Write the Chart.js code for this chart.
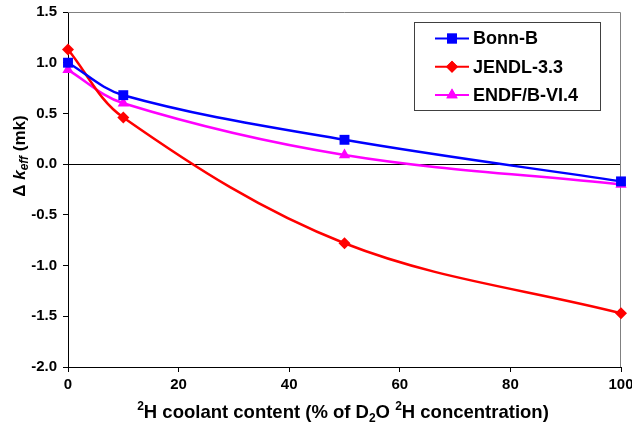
<!DOCTYPE html>
<html>
<head>
<meta charset="utf-8">
<script src="https://cdn.jsdelivr.net/npm/chart.js@4/dist/chart.umd.min.js"></script>
<style>
  html, body { margin: 0; padding: 0; background: #fff; }
  .chart-box { width: 632px; height: 430px; position: relative; }
</style>
</head>
<body>
<div class="chart-box"><canvas id="chart"></canvas></div>
<script>
// coolant content, % of D2O 2H concentration
const coolant = [0, 10, 50, 100];
const bonnB = [1.00, 0.68, 0.24, -0.17];
const jendl = [1.13, 0.46, -0.78, -1.47];
const endf = [0.93, 0.60, 0.09, -0.20];
const xTicks = [0, 20, 40, 60, 80, 100];
const yTicks = [-2.0, -1.5, -1.0, -0.5, 0.0, 0.5, 1.0, 1.5];

const FONT = 'Arial, "Liberation Sans", sans-serif';

const toPoints = ys => coolant.map((x, i) => ({x: x, y: ys[i]}));

const series = [
    {label: 'Bonn-B', data: bonnB, color: '#0000ff', style: 'rect', radius: 7},
    {label: 'JENDL-3.3', data: jendl, color: '#ff0000', style: 'rectRot', radius: 6},
    {label: 'ENDF/B-VI.4', data: endf, color: '#ff00ff', style: 'triangle', radius: 6.5}
];

// frame around the plot area (top & right in grey)
const frame = {
    id: 'frame',
    beforeDatasetsDraw(chart) {
        const {ctx, chartArea: a} = chart;
        ctx.save();
        ctx.strokeStyle = '#808080';
        ctx.lineWidth = 1;
        ctx.beginPath();
        ctx.moveTo(a.left, a.top + 0.5);
        ctx.lineTo(a.right - 0.5, a.top + 0.5);
        ctx.lineTo(a.right - 0.5, a.bottom);
        ctx.stroke();
        ctx.restore();
    }
};

// axis titles with sub/superscripts
const titles = {
    id: 'titles',
    afterDraw(chart) {
        const {ctx, chartArea: a} = chart;
        ctx.save();
        ctx.fillStyle = '#000';
        ctx.textBaseline = 'alphabetic';

        // x title
        const parts = [
            {t: '2', f: 'bold 12px', dy: -8},
            {t: 'H coolant content (% of D', f: 'bold 18.5px', dy: 0},
            {t: '2', f: 'bold 12px', dy: 4},
            {t: 'O ', f: 'bold 18.5px', dy: 0},
            {t: '2', f: 'bold 12px', dy: -8},
            {t: 'H concentration)', f: 'bold 18.5px', dy: 0}
        ];
        let w = 0;
        parts.forEach(p => { ctx.font = p.f + ' ' + FONT; w += ctx.measureText(p.t).width; });
        let x = 343 - w / 2;
        const by = 418;
        parts.forEach(p => {
            ctx.font = p.f + ' ' + FONT;
            ctx.fillText(p.t, x, by + p.dy);
            x += ctx.measureText(p.t).width;
        });

        // y title, rotated
        const yp = [
            {t: 'Δ ', f: 'bold 17px', dy: 0},
            {t: 'k', f: 'italic bold 17px', dy: 0},
            {t: 'eff', f: 'italic bold 12px', dy: 3},
            {t: ' (mk)', f: 'bold 17px', dy: 0}
        ];
        let h = 0;
        yp.forEach(p => { ctx.font = p.f + ' ' + FONT; h += ctx.measureText(p.t).width; });
        ctx.translate(25, 156);
        ctx.rotate(-Math.PI / 2);
        let yx = -h / 2;
        yp.forEach(p => {
            ctx.font = p.f + ' ' + FONT;
            ctx.fillText(p.t, yx, p.dy);
            yx += ctx.measureText(p.t).width;
        });
        ctx.restore();
    }
};

// boxed legend in the upper right
const boxLegend = {
    id: 'boxLegend',
    afterDraw(chart) {
        const {ctx} = chart;
        const left = 414.5, top = 22.5, right = 600.5, bottom = 110.5;
        ctx.save();
        ctx.fillStyle = '#fff';
        ctx.fillRect(left, top, right - left, bottom - top);
        ctx.strokeStyle = '#404040';
        ctx.lineWidth = 1;
        ctx.strokeRect(left, top, right - left, bottom - top);
        chart.data.datasets.forEach((ds, i) => {
            const y = 38.5 + i * 28.3;
            ctx.strokeStyle = ds.borderColor;
            ctx.lineWidth = 2;
            ctx.beginPath();
            ctx.moveTo(435, y);
            ctx.lineTo(469, y);
            ctx.stroke();
            ctx.fillStyle = ds.backgroundColor;
            Chart.helpers.drawPoint(ctx, {pointStyle: ds.pointStyle, radius: ds.pointRadius, rotation: 0}, 452, y);
            ctx.fill();
            ctx.fillStyle = '#000';
            ctx.font = 'bold 18px ' + FONT;
            ctx.textBaseline = 'middle';
            ctx.fillText(ds.label, 473, y + 1);
        });
        ctx.restore();
    }
};

new Chart(document.getElementById('chart'), {
    type: 'line',
    data: {
        datasets: series.map(s => ({
            label: s.label,
            data: toPoints(s.data),
            borderColor: s.color,
            backgroundColor: s.color,
            borderWidth: 2.5,
            pointStyle: s.style,
            pointRadius: s.radius,
            pointHoverRadius: s.radius,
            pointBorderWidth: 0,
            tension: 0.35,
            clip: false
        }))
    },
    options: {
        responsive: true,
        maintainAspectRatio: false,
        animation: false,
        layout: {padding: {top: 12, right: 11, left: 0, bottom: 0}},
        plugins: {legend: {display: false}, tooltip: {enabled: false}},
        scales: {
            x: {
                type: 'linear',
                min: 0, max: 100,
                afterBuildTicks: s => { s.ticks = xTicks.map(v => ({value: v})); },
                afterFit: s => { s.height = 63; s.paddingLeft = 0; s.paddingRight = 0; },
                grid: {
                    drawOnChartArea: false,
                    tickColor: '#000',
                    tickLength: 5,
                    offset: false
                },
                border: {color: '#000', width: 1},
                ticks: {
                    color: '#000',
                    font: {family: FONT, size: 15, weight: 'bold'},
                    padding: 4,
                    maxRotation: 0
                }
            },
            y: {
                min: -2, max: 1.5,
                afterBuildTicks: s => { s.ticks = yTicks.map(v => ({value: v})); },
                afterFit: s => { s.width = 68; s.paddingTop = 0; s.paddingBottom = 0; },
                grid: {
                    color: c => (c.tick && c.tick.value === 0 ? '#000' : 'rgba(0,0,0,0)'),
                    tickColor: '#000',
                    tickLength: 5
                },
                border: {color: '#000', width: 1},
                ticks: {
                    color: '#000',
                    font: {family: FONT, size: 15, weight: 'bold'},
                    padding: 6,
                    callback: v => Number(v).toFixed(1)
                }
            }
        }
    },
    plugins: [frame, titles, boxLegend]
});
</script>
</body>
</html>
